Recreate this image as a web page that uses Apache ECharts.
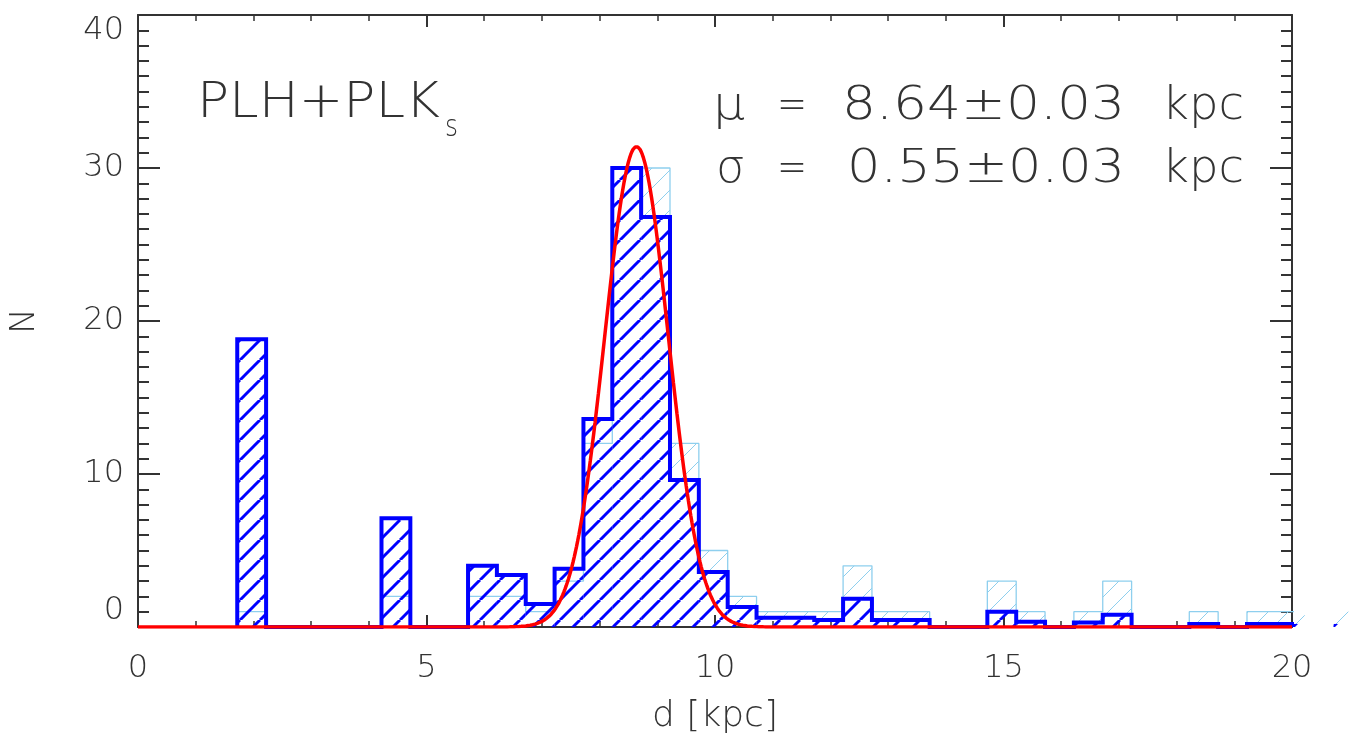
<!DOCTYPE html>
<html>
<head>
<meta charset="utf-8">
<script src="https://cdn.jsdelivr.net/npm/echarts@6/dist/echarts.min.js"></script>
<style>
  html, body { margin: 0; padding: 0; background: #ffffff; }
  #chart { width: 1350px; height: 740px; }
</style>
</head>
<body>
<div id="chart"></div>
<script>
// Distance histograms in 0.5 kpc bins; the first bin starts at BIN_START
const BIN_START = 1.72;
const BIN_WIDTH = 0.5;

// PLH+PLKs distances (weighted counts)
const countsPL = [
  18.8, 0, 0, 0, 0, 7.1, 0, 0, 4.0, 3.4,
  1.5, 3.8, 13.6, 30.0, 26.8, 9.6, 3.6, 1.3, 0.6, 0.6,
  0.45, 1.85, 0.45, 0.45, 0, 0, 1.0, 0.35, 0, 0.3,
  0.8, 0, 0, 0.2, 0, 0.2, 0.2, 0, 0.2
];

// full sample counts
const countsAll = [
  1, 0, 0, 0, 0, 2, 0, 0, 2, 2,
  1, 3, 12, 30, 30, 12, 5, 2, 1, 1,
  1, 4, 1, 1, 0, 0, 3, 1, 0, 1,
  3, 0, 0, 1, 0, 1, 1, 0, 1
];

// Gaussian fit to the PLH+PLKs peak
const FIT_MU = 8.64;
const FIT_SIGMA = 0.55;
const FIT_PEAK = 31.4;
const FIT_STEP = 0.02;

// axis ticks
const xTicks = [0, 5, 10, 15, 20];
const yTicks = [0, 10, 20, 30, 40];

const FONT = '"DejaVu Sans", sans-serif';
const WEIGHT = 200;
const INK = '#333333';
const DARK_BLUE = '#0000ff';
const LIGHT_BLUE = '#8ecfee';
const RED = '#ff0000';

// bin triples [left edge, right edge, count]
function binItems(counts) {
  return counts.map((c, i) => {
    const x0 = BIN_START + i * BIN_WIDTH;
    return [x0, x0 + BIN_WIDTH, c];
  });
}

// step outline points for a histogram
function stepPoints(counts) {
  const pts = [[BIN_START, 0]];
  counts.forEach((c, i) => pts.push([BIN_START + i * BIN_WIDTH, c]));
  pts.push([BIN_START + counts.length * BIN_WIDTH, 0]);
  return pts;
}

// Gaussian curve from the fitted parameters
function fitCurve() {
  const pts = [];
  const n = Math.round((xTicks[xTicks.length - 1] - xTicks[0]) / FIT_STEP);
  for (let i = 0; i <= n; i++) {
    const x = xTicks[0] + i * FIT_STEP;
    const z = (x - FIT_MU) / FIT_SIGMA;
    pts.push([x, FIT_PEAK * Math.exp(-0.5 * z * z)]);
  }
  return pts;
}

// diagonal "/" hatching tile
function hatch(color, width, period) {
  const c = document.createElement('canvas');
  c.width = period;
  c.height = period;
  const g = c.getContext('2d');
  g.strokeStyle = color;
  g.lineWidth = width;
  for (let k = -1; k <= 1; k++) {
    g.beginPath();
    g.moveTo(k * period, period);
    g.lineTo(k * period + period, 0);
    g.stroke();
  }
  return { image: c, repeat: 'repeat' };
}

const darkHatch = hatch(DARK_BLUE, 3, 20);
const lightHatch = hatch(LIGHT_BLUE, 1, 20);

function fillRenderer(pattern) {
  return function (params, api) {
    const x0 = api.value(0), x1 = api.value(1), v = api.value(2);
    if (!(v > 0)) return null;
    const p0 = api.coord([x0, v]);
    const p1 = api.coord([x1, 0]);
    return {
      type: 'rect',
      shape: { x: p0[0], y: p0[1], width: p1[0] - p0[0], height: p1[1] - p0[1] },
      style: { fill: pattern }
    };
  };
}

// text stretched horizontally to span a given width
const measureCtx = document.createElement('canvas').getContext('2d');
function spanText(text, left, top, width, fontSize, extra) {
  const style = Object.assign({
    text: text, fontFamily: FONT, fontWeight: WEIGHT, fontSize: fontSize, fill: INK
  }, extra || {});
  measureCtx.font = (style.fontStyle || 'normal') + ' ' + style.fontWeight + ' ' + fontSize + 'px ' + style.fontFamily;
  const w = measureCtx.measureText(text).width || width;
  return { type: 'text', x: left, y: top, scaleX: width / w, style: style, silent: true };
}

const labelStyle = { fontFamily: FONT, fontWeight: WEIGHT, fontSize: 32, color: INK };

function frameAxis(extra) {
  return Object.assign({
    type: 'value',
    axisLine: { show: true, onZero: false, lineStyle: { color: INK, width: 2 } },
    splitLine: { show: false },
    minorSplitLine: { show: false }
  }, extra);
}

const chart = echarts.init(document.getElementById('chart'), null, { renderer: 'canvas' });

const option = {
  backgroundColor: '#ffffff',
  animation: false,
  grid: { left: 137, right: 58, top: 15, bottom: 112 },
  xAxis: [
    frameAxis({
      position: 'bottom',
      min: xTicks[0], max: xTicks[xTicks.length - 1],
      interval: xTicks[1] - xTicks[0],
      axisTick: { inside: true, length: 12, lineStyle: { color: INK, width: 2 } },
      minorTick: { show: true, splitNumber: 5, length: 6, lineStyle: { color: INK, width: 1.5 } },
      axisLabel: Object.assign({ margin: 26, showMinLabel: true, showMaxLabel: true }, labelStyle),
      name: 'd [kpc]',
      nameLocation: 'middle',
      nameGap: 72,
      nameTextStyle: { fontFamily: FONT, fontWeight: WEIGHT, fontSize: 36, color: INK }
    }),
    frameAxis({
      position: 'top',
      min: xTicks[0], max: xTicks[xTicks.length - 1],
      interval: xTicks[1] - xTicks[0],
      axisTick: { inside: true, length: 12, lineStyle: { color: INK, width: 2 } },
      minorTick: { show: true, splitNumber: 5, length: 6, lineStyle: { color: INK, width: 1.5 } },
      axisLabel: { show: false }
    })
  ],
  yAxis: [
    frameAxis({
      position: 'left',
      min: yTicks[0], max: yTicks[yTicks.length - 1],
      interval: yTicks[1] - yTicks[0],
      axisTick: { inside: true, length: 22, lineStyle: { color: INK, width: 2 } },
      minorTick: { show: true, splitNumber: 10, length: 11, lineStyle: { color: INK, width: 2 } },
      axisLabel: Object.assign({
        margin: 14, showMinLabel: true, showMaxLabel: true,
        verticalAlignMinLabel: 'bottom', verticalAlignMaxLabel: 'top'
      }, labelStyle),
      name: 'N',
      nameLocation: 'middle',
      nameGap: 96,
      nameRotate: 90,
      nameTextStyle: { fontFamily: FONT, fontWeight: WEIGHT, fontSize: 34, color: INK }
    }),
    frameAxis({
      position: 'right',
      min: yTicks[0], max: yTicks[yTicks.length - 1],
      interval: yTicks[1] - yTicks[0],
      axisTick: { inside: true, length: 22, lineStyle: { color: INK, width: 2 } },
      minorTick: { show: true, splitNumber: 10, length: 11, lineStyle: { color: INK, width: 2 } },
      axisLabel: { show: false }
    })
  ],
  series: [
    {
      name: 'all fill',
      type: 'custom',
      xAxisIndex: 0, yAxisIndex: 0,
      clip: false,
      z: 1,
      encode: { x: [0, 1], y: 2 },
      renderItem: fillRenderer(lightHatch),
      data: binItems(countsAll),
      silent: true
    },
    {
      name: 'all outline',
      type: 'line',
      xAxisIndex: 0, yAxisIndex: 0,
      step: 'end',
      showSymbol: false,
      clip: true,
      z: 2,
      lineStyle: { color: LIGHT_BLUE, width: 1.3 },
      data: stepPoints(countsAll),
      silent: true
    },
    {
      name: 'PL fill',
      type: 'custom',
      xAxisIndex: 0, yAxisIndex: 0,
      clip: false,
      z: 3,
      encode: { x: [0, 1], y: 2 },
      renderItem: fillRenderer(darkHatch),
      data: binItems(countsPL),
      silent: true
    },
    {
      name: 'PL outline',
      type: 'line',
      xAxisIndex: 0, yAxisIndex: 0,
      step: 'end',
      showSymbol: false,
      clip: true,
      z: 4,
      lineStyle: { color: DARK_BLUE, width: 4, join: 'miter' },
      data: stepPoints(countsPL),
      silent: true
    },
    {
      name: 'Gaussian fit',
      type: 'line',
      xAxisIndex: 0, yAxisIndex: 0,
      showSymbol: false,
      clip: true,
      z: 5,
      lineStyle: { color: RED, width: 3.5 },
      data: fitCurve(),
      silent: true
    }
  ],
  graphic: [
    spanText('PLH+PLK', 197, 79, 243, 50),
    spanText('s', 445, 113, 13, 30),

    spanText('μ', 713, 84, 32, 46, { fontWeight: 300 }),
    spanText('=', 777, 84, 30, 46),
    spanText('8.64±0.03', 842, 84, 283, 46),
    spanText('kpc', 1162, 84, 82, 46),

    spanText('σ', 716, 147, 29, 46),
    spanText('=', 777, 147, 30, 46),
    spanText('0.55±0.03', 847, 147, 278, 46),
    spanText('kpc', 1162, 147, 82, 46)
  ]
};

chart.setOption(option);
</script>
</body>
</html>
